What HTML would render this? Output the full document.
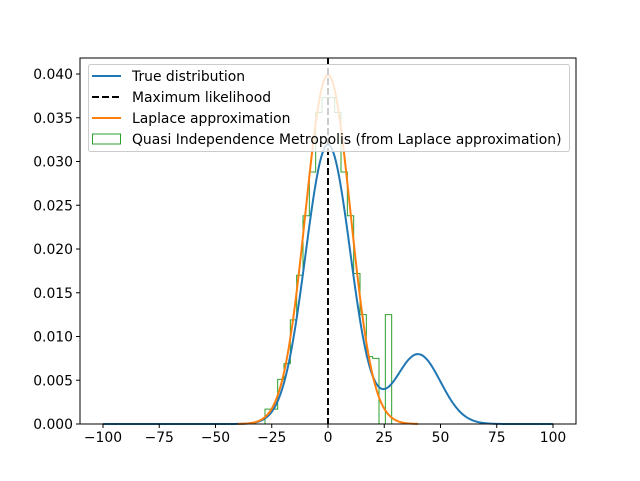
<!DOCTYPE html>
<html><head><meta charset="utf-8"><style>
body{margin:0;background:#fff}
svg text{font-family:"DejaVu Sans","Liberation Sans",sans-serif;font-size:13.9px;fill:#000}
</style></head><body>
<svg id="chart" width="640" height="476" xmlns="http://www.w3.org/2000/svg">
<rect width="640" height="476" fill="#fff"/>
<g id="plot"></g>
</svg>
<script>
const xTicks=[-100,-75,-50,-25,0,25,50,75,100];
const yTicks=[0,0.005,0.010,0.015,0.020,0.025,0.030,0.035,0.040];
const yTickLabels=["0.000","0.005","0.010","0.015","0.020","0.025","0.030","0.035","0.040"];
const trueWeights=[0.8,0.2];
const trueMeans=[0,40];
const trueSds=[10,10];
const laplaceMean=[0];
const laplaceSd=[10];
const mleX=[0];
const binStart=-28;
const binWidth=2.815;
const histValues=[0.0017,0.0017,0.0051,0.0069,0.0119,0.0170,0.0238,0.0288,0.0356,0.0373,0.0373,0.0356,0.0288,0.0238,0.0172,0.0125,0.0077,0.0075,0,0.0125];
const legendLabels=["True distribution","Maximum likelihood","Laplace approximation","Quasi Independence Metropolis (from Laplace approximation)"];

const L=80,R=576,T=58,B=424;
const xs=v=>328+v*2.25;
const ys=v=>424-v*8750;
const NS="http://www.w3.org/2000/svg";
const g=document.getElementById('plot');
function mk(tag,attrs,parent){const e=document.createElementNS(NS,tag);for(const k in attrs)e.setAttribute(k,attrs[k]);(parent||g).appendChild(e);return e;}
function pdf(x,m,s){return Math.exp(-0.5*((x-m)/s)**2)/(s*Math.sqrt(2*Math.PI));}

let d=`M${xs(binStart)},${ys(0)}`;
histValues.forEach((v,i)=>{const x0=xs(binStart+i*binWidth),x1=xs(binStart+(i+1)*binWidth);d+=` L${x0},${ys(v)} L${x1},${ys(v)}`;});
d+=` L${xs(binStart+histValues.length*binWidth)},${ys(0)}`;
let e=mk('path',{d:d,fill:'none',stroke:'#2ca02c','stroke-width':1});



let p=[];for(let x=-100;x<=100;x+=0.5){let y=0;trueWeights.forEach((w,k)=>y+=w*pdf(x,trueMeans[k],trueSds[k]));p.push(xs(x).toFixed(2)+','+ys(y).toFixed(2));}
e=mk('polyline',{points:p.join(' '),fill:'none',stroke:'#1f77b4','stroke-width':2});



p=[];for(let x=-40;x<=40;x+=0.5){p.push(xs(x).toFixed(2)+','+ys(pdf(x,laplaceMean[0],laplaceSd[0])).toFixed(2));}
e=mk('polyline',{points:p.join(' '),fill:'none',stroke:'#ff7f0e','stroke-width':2});



e=mk('line',{x1:xs(mleX[0]),x2:xs(mleX[0]),y1:T,y2:B,stroke:'#000','stroke-width':2,'stroke-dasharray':'7,3'});



e=mk('rect',{x:L,y:T,width:R-L,height:B-T,fill:'none',stroke:'#000','stroke-width':1});


xTicks.forEach(v=>{
  mk('line',{x1:xs(v),x2:xs(v),y1:B,y2:B+4,stroke:'#000'});
  const t=mk('text',{x:xs(v),y:B+18,'text-anchor':'middle'});t.textContent=v<0?'\u2212'+(-v):v;
  
  
});
yTicks.forEach((v,i)=>{
  mk('line',{x1:L-4,x2:L,y1:ys(v),y2:ys(v),stroke:'#000'});
  const t=mk('text',{x:L-7,y:ys(v)+5,'text-anchor':'end'});t.textContent=yTickLabels[i];
  
  
});

const lg=mk('g',{});


mk('rect',{x:88.5,y:64.5,width:481,height:87,rx:2,fill:'#fff','fill-opacity':0.8,stroke:'#ccc'},lg);
const rowsY=[76,97,118,139];
legendLabels.forEach((lab,i)=>{
  const y=rowsY[i];
  if(i===0)mk('line',{x1:92,x2:121,y1:y,y2:y,stroke:'#1f77b4','stroke-width':2},lg);
  if(i===1)mk('line',{x1:92,x2:121,y1:y,y2:y,stroke:'#000','stroke-width':2,'stroke-dasharray':'7,3'},lg);
  if(i===2)mk('line',{x1:92,x2:121,y1:y,y2:y,stroke:'#ff7f0e','stroke-width':2},lg);
  if(i===3)mk('rect',{x:92.5,y:y-5,width:28,height:10,fill:'none',stroke:'#2ca02c'},lg);
  const t=mk('text',{x:132,y:y+5},lg);t.textContent=lab;
  
  
});
</script>
</body></html>
